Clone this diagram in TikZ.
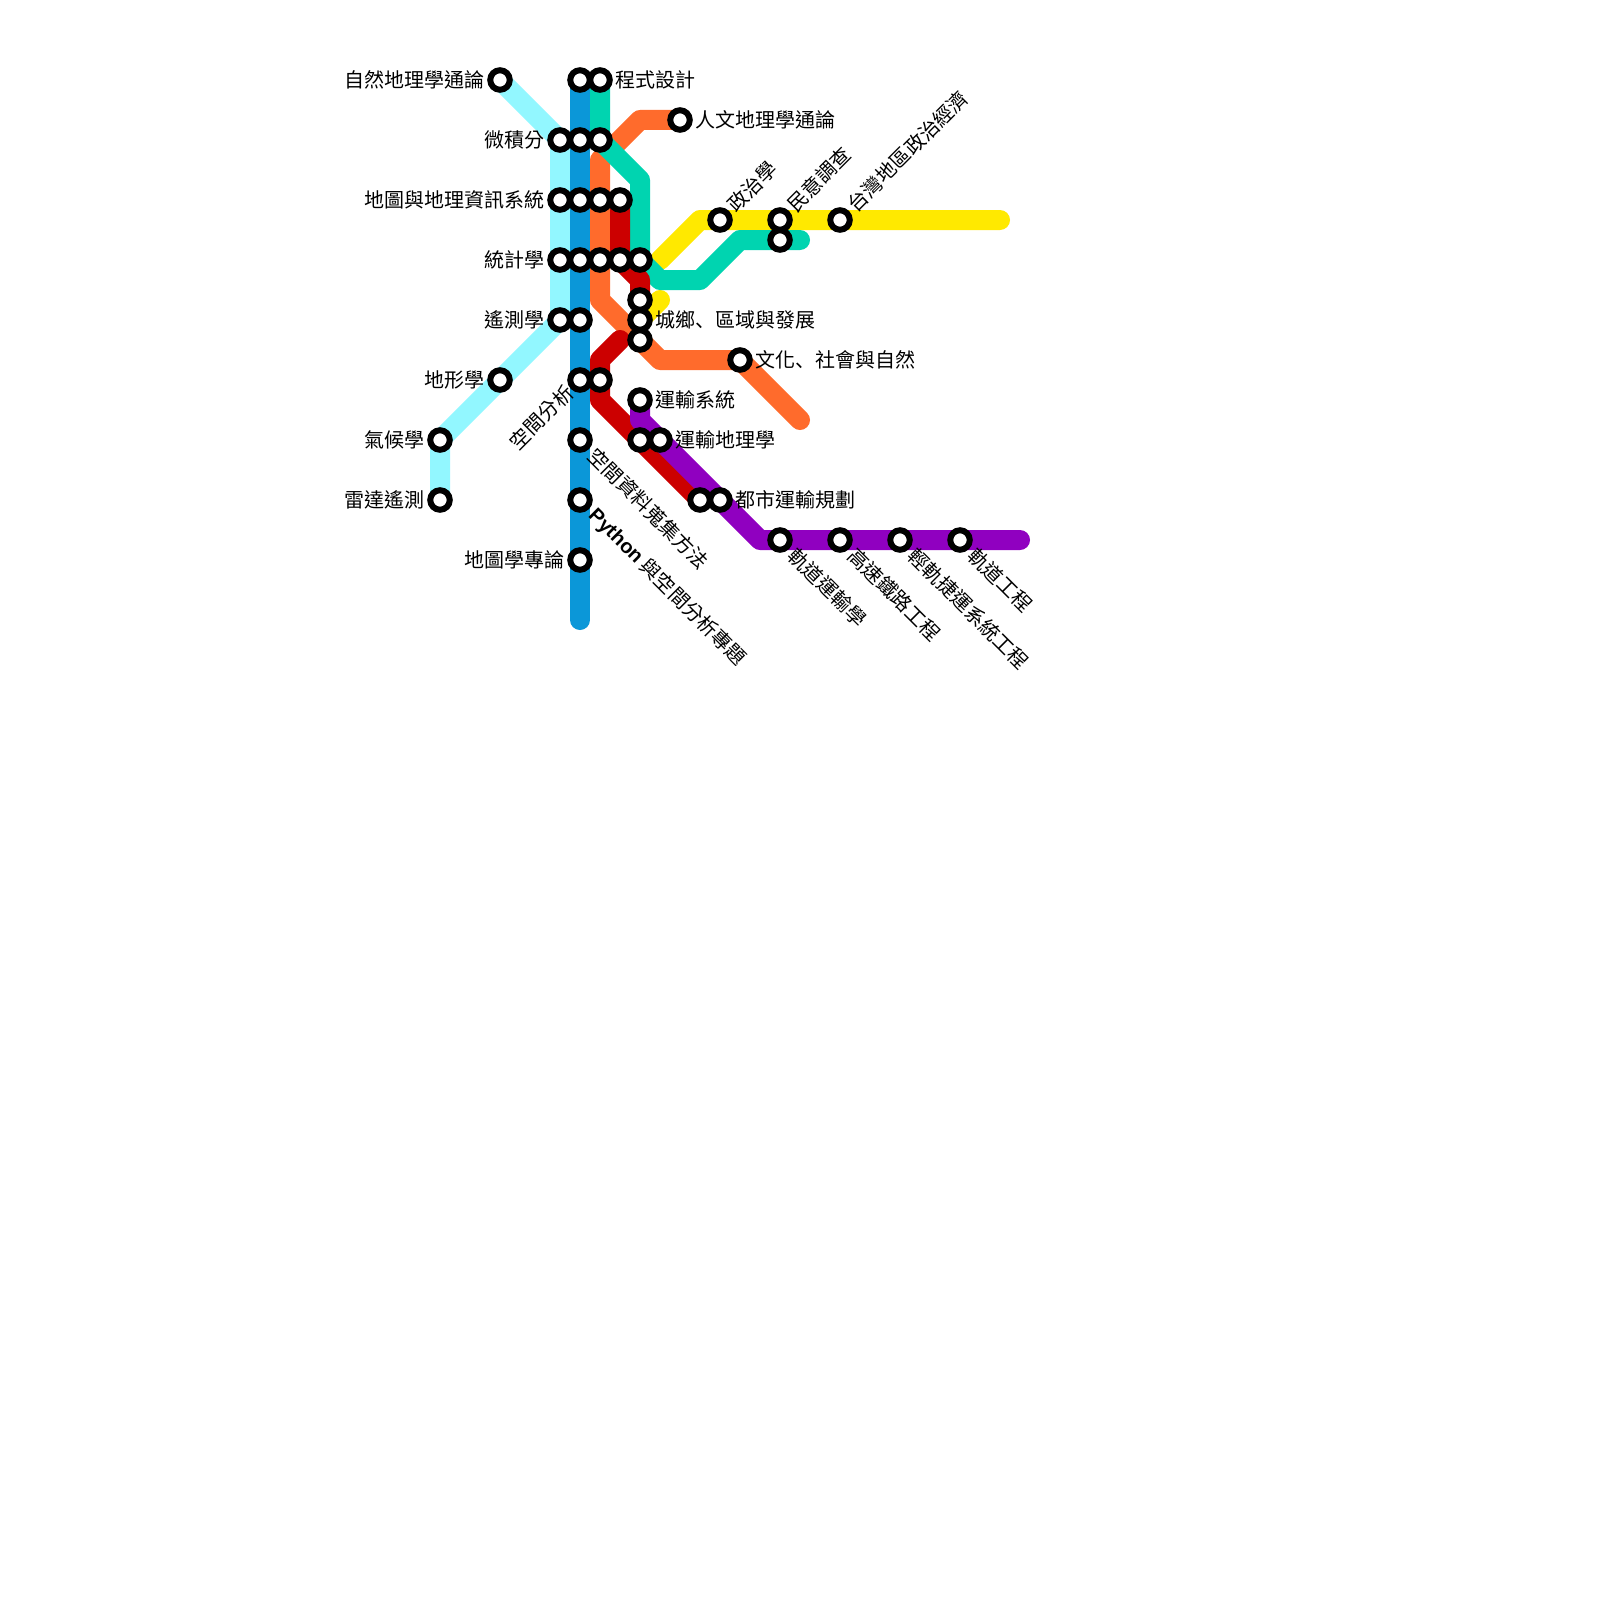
\documentclass[tikz,border=0pt]{standalone}
\usepackage{fontspec}
\setmainfont{Noto Sans CJK TC}
\newfontfamily\latinb[Scale=1]{Liberation Sans Bold}
\newfontfamily\scfont{Noto Sans CJK SC}
\newcommand\dunhao{{\scfont 、}}
\definecolor{cyanl}{HTML}{92F7FF}
\definecolor{bluel}{HTML}{0B97D8}
\definecolor{greenl}{HTML}{00D4B0}
\definecolor{orangel}{HTML}{FF6B2C}
\definecolor{redl}{HTML}{CC0000}
\definecolor{yellowl}{HTML}{FFE900}
\definecolor{purplel}{HTML}{9000C0}
\tikzset{
  metro/.style={line width=20pt,line cap=round,line join=round},
  sta/.style={circle,draw=black,fill=white,line width=6pt,outer sep=0pt,minimum size=19.5pt,inner sep=0pt},
  lab/.style={font=\fontsize{20pt}{20pt}\selectfont,inner sep=0pt,text=black},
}
\begin{document}
\begin{tikzpicture}[x=1pt,y=-1pt]
\useasboundingbox (0,0) rectangle (1600,1600);
\fill[white] (0,0) rectangle (1600,1600);
% named stations
\foreach \n/\x/\y in {
 a1/500/80,a2/580/80,a3/600/80,b1/680/120,c1/560/140,c2/580/140,c3/600/140,
 d1/560/200,d2/580/200,d3/600/200,d4/620/200,e1/720/220,e2/780/220,e3/840/220,e4/780/240,
 f1/560/260,f2/580/260,f3/600/260,f4/620/260,f5/640/260,g1/640/300,g2/640/320,g3/560/320,g4/580/320,
 g5/640/340,h1/740/360,i1/500/380,i2/580/380,i3/600/380,j1/640/400,k1/440/440,k2/580/440,k3/640/440,k4/660/440,
 l1/440/500,l2/580/500,l3/700/500,l4/720/500,m1/780/540,m2/840/540,m3/900/540,m4/960/540,n1/580/560}
 {\coordinate (p\n) at (\x,\y);}
\coordinate (blueend) at (580,620);
\coordinate (greenend) at (800,240);
\coordinate (orangeend) at (800,420);
\coordinate (yellowend) at (1000,220);
\coordinate (purpleend) at (1020,540);
% lines
\draw[metro,cyanl] (pa1) -- (pc1) -- (pg3) -- (pk1) -- (pl1);
\draw[metro,yellowl] (660,260) -- (700,220) -- (yellowend);
\draw[metro,yellowl] (660,300) -- (pg2);
\draw[metro,orangel] (pb1) -- (640,120) -- (600,160) -- (600,300) -- (660,360) -- (ph1) -- (orangeend);
\draw[metro,greenl] (pa3) -- (pc3) -- (640,180) -- (pf5) -- (660,280) -- (700,280) -- (740,240) -- (greenend);
\draw[metro,redl] (pd4) -- (pf4) -- (640,280) -- (pg1);
\draw[metro,redl] (620,340) -- (600,360) -- (600,400) -- (700,500);
\draw[metro,purplel] (pj1) -- (640,420) -- (760,540) -- (purpleend);
\draw[metro,bluel] (pa2) -- (blueend);
% stations
\foreach \n/\x/\y in {
 a1/500/80,a2/580/80,a3/600/80,b1/680/120,c1/560/140,c2/580/140,c3/600/140,
 d1/560/200,d2/580/200,d3/600/200,d4/620/200,e1/720/220,e2/780/220,e3/840/220,e4/780/240,
 f1/560/260,f2/580/260,f3/600/260,f4/620/260,f5/640/260,g1/640/300,g2/640/320,g3/560/320,g4/580/320,
 g5/640/340,h1/740/360,i1/500/380,i2/580/380,i3/600/380,j1/640/400,k1/440/440,k2/580/440,k3/640/440,k4/660/440,
 l1/440/500,l2/580/500,l3/700/500,l4/720/500,m1/780/540,m2/840/540,m3/900/540,m4/960/540,n1/580/560}
 {\node[sta] (s\n) at (\x,\y) {};}
% labels
\foreach \n/\t in {a1/自然地理學通論,c1/微積分,d1/地圖與地理資訊系統,f1/統計學,g3/遙測學,i1/地形學,k1/氣候學,l1/雷達遙測,n1/地圖學專論}
 {\node[lab,anchor=east] at ([xshift=-15pt]p\n) {\t};}
\foreach \n/\t in {a3/程式設計,b1/人文地理學通論,g2/城鄉\dunhao 區域與發展,h1/文化\dunhao 社會與自然,j1/運輸系統,k4/運輸地理學,l4/都市運輸規劃}
 {\node[lab,anchor=west] at ([xshift=15pt]p\n) {\t};}
\foreach \n/\t in {e1/政治學,e2/民意調查,e3/台灣地區政治經濟}
 {\node[lab,anchor=west,rotate=45] at ([xshift=11pt,yshift=12pt]p\n) {\t};}
\foreach \n/\t in {k2/空間資料蒐集方法,m1/軌道運輸學,m2/高速鐵路工程,m3/輕軌捷運系統工程,m4/軌道工程}
 {\node[lab,anchor=west,rotate=-45] at ([xshift=12pt,yshift=-12pt]p\n) {\t};}
\node[lab,anchor=west,rotate=-45] at ([xshift=12pt,yshift=-12pt]pl2) {{\latinb Python} 與空間分析專題};
\node[lab,anchor=east,rotate=45] at ([xshift=-10pt,yshift=-9pt]pi2) {空間分析};
\end{tikzpicture}
\end{document}
